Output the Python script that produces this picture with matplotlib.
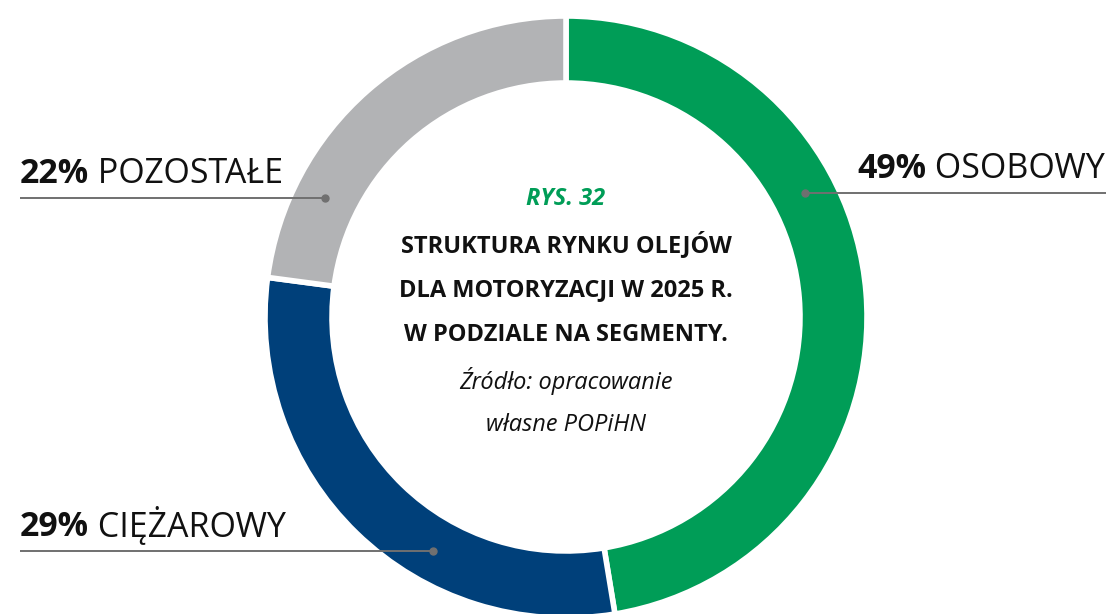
import numpy as np
import matplotlib.pyplot as plt
from matplotlib import font_manager as fm

# segments, clockwise from the top
segments = ['OSOBOWY', 'CIĘŻAROWY', 'POZOSTAŁE']
percent_labels = [49, 29, 22]
# arc shares as drawn on the ring
arc_shares = [47.4, 29.7, 22.9]
colors = ['#009D57', '#00407A', '#B2B3B5']

title_tag = 'RYS. 32'
title_lines = ['STRUKTURA RYNKU OLEJÓW', 'DLA MOTORYZACJI W 2025 R.', 'W PODZIALE NA SEGMENTY.']
source_lines = ['Źródło: opracowanie', 'własne POPiHN']

fdir = '/usr/share/fonts/truetype/open-sans/'
def font(name, size):
    try:
        return fm.FontProperties(fname=fdir + name, size=size)
    except Exception:
        return fm.FontProperties(family='Open Sans', size=size)

W, H = 1106, 614
fig = plt.figure(figsize=(W / 100, H / 100), dpi=100)
ax = fig.add_axes([0, 0, 1, 1])

cx, cy = 566, H - 317
r_out, ring_w = 301, 67

ax.pie(arc_shares, colors=colors, startangle=90, counterclock=False,
       radius=r_out, center=(cx, cy),
       wedgeprops=dict(width=ring_w, edgecolor='white', linewidth=4))
ax.set_xlim(0, W)
ax.set_ylim(0, H)
ax.set_aspect('equal')
ax.set_axis_off()

r_dot = 269

# label placement: (line y, text x, side)
label_pos = {
    'OSOBOWY': (H - 193, 857, 'right'),
    'POZOSTAŁE': (H - 198, 20, 'left'),
    'CIĘŻAROWY': (H - 551, 20, 'left'),
}

for name, pct in zip(segments, percent_labels):
    ly, tx, side = label_pos[name]
    dx = np.sqrt(r_dot ** 2 - (ly - cy) ** 2)
    if side == 'right':
        dot_x = cx + dx
        x0, x1 = dot_x, W
    else:
        dot_x = cx - dx
        x0, x1 = 20, dot_x
    ax.plot([x0, x1], [ly, ly], color='#707070', lw=1.4, solid_capstyle='butt')
    ax.plot(dot_x, ly, 'o', color='#707070', ms=5)
    t1 = ax.text(tx, ly + 7, f'{pct}%', fontproperties=font('OpenSans-Bold.ttf', 24.4),
                 color='#111111', va='bottom', ha='left')
    ax.annotate(' ' + name, xy=(1, 0), xycoords=t1, va='bottom', ha='left',
                fontproperties=font('OpenSans-Regular.ttf', 24.4), color='#111111')

ax.text(cx, H - 199, title_tag, fontproperties=font('OpenSans-BoldItalic.ttf', 17),
        color='#009D57', ha='center', va='center')
for i, line in enumerate(title_lines):
    ax.text(cx, H - 245 - 45 * i, line, fontproperties=font('OpenSans-Bold.ttf', 17),
            color='#111111', ha='center', va='center')
for i, line in enumerate(source_lines):
    ax.text(cx, H - 381 - 44 * i, line, fontproperties=font('OpenSans-Italic.ttf', 17),
            color='#111111', ha='center', va='center')

fig.savefig('out.png', dpi=100, facecolor='white')
